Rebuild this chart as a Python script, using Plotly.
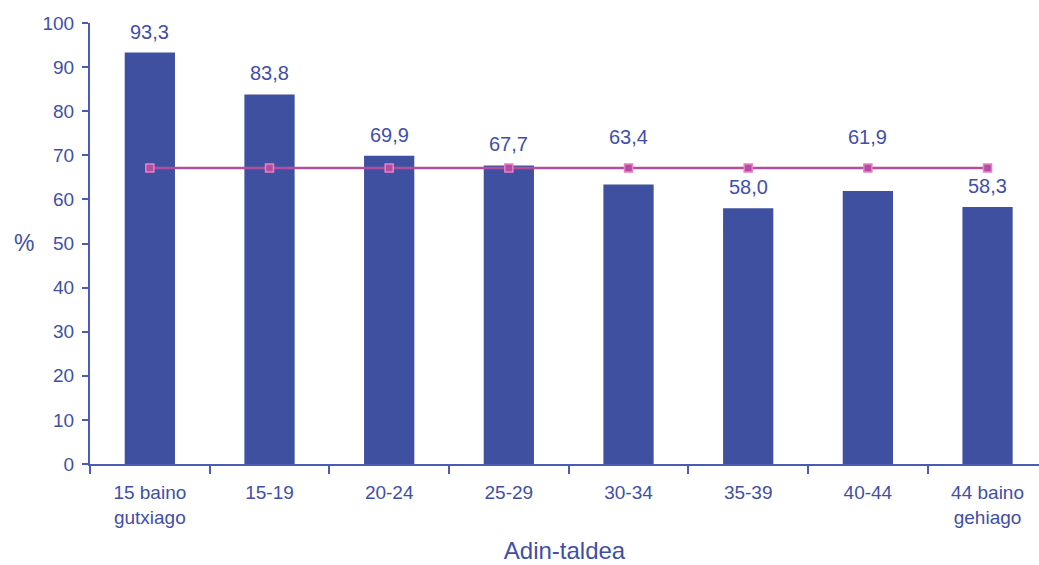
import plotly.graph_objects as go

categories = ["15 baino<br>gutxiago", "15-19", "20-24", "25-29", "30-34", "35-39", "40-44", "44 baino<br>gehiago"]
values = [93.3, 83.8, 69.9, 67.7, 63.4, 58.0, 61.9, 58.3]
average = [67.1] * 8
value_labels = ["93,3", "83,8", "69,9", "67,7", "63,4", "58,0", "61,9", "58,3"]

BLUE = "#4050A0"
TXT = "#3F4FA8"
AX = "#4A5CB8"
FONT = "Liberation Sans, Arial, sans-serif"

fig = go.Figure()
fig.add_trace(go.Bar(x=categories, y=values, marker=dict(color=BLUE, line=dict(width=0)),
                     width=0.42, hoverinfo="skip"))
fig.add_trace(go.Scatter(x=categories, y=average, mode="lines+markers",
                         line=dict(color="#B04FA0", width=2.5),
                         marker=dict(symbol="square", size=8, color="#B04FA0",
                                     line=dict(color="#F07EC6", width=1.5)),
                         hoverinfo="skip"))

for c, v, a, t in zip(categories, values, average, value_labels):
    if a - 8 < v < a:
        y, shift = a, 31
    else:
        y, shift = v, 21
    fig.add_annotation(x=c, y=y, text=t, showarrow=False, yshift=shift,
                       font=dict(size=20, color=TXT, family=FONT))

fig.add_annotation(x=(12 - 90) / (1039 - 90), y=(464 - 243) / (464 - 23),
                   xref="paper", yref="paper", text="%", showarrow=False,
                   font=dict(size=23, color=TXT, family=FONT))

fig.update_layout(
    width=1039, height=565,
    margin=dict(l=90, r=0, t=23, b=101),
    paper_bgcolor="white", plot_bgcolor="white",
    showlegend=False,
    font=dict(family=FONT, color=TXT),
    xaxis=dict(type="category", range=[-0.5, 7.43], showgrid=False, zeroline=False,
               showline=True, linecolor=AX, linewidth=2,
               ticks="outside", tickson="boundaries", ticklen=8, tickcolor=AX, tickwidth=2,
               ticklabelstandoff=10,
               tickfont=dict(size=19, color=TXT),
               title=dict(text="Adin-taldea", font=dict(size=24, color=TXT), standoff=16)),
    yaxis=dict(range=[0, 100], tickmode="array", tickvals=list(range(0, 101, 10)),
               showgrid=False, zeroline=False, showline=True, linecolor=AX, linewidth=2,
               ticks="outside", ticklen=6, tickcolor=AX, tickwidth=2,
               ticklabelstandoff=4,
               tickfont=dict(size=19, color=TXT)),
)

fig.write_html("out.html")
